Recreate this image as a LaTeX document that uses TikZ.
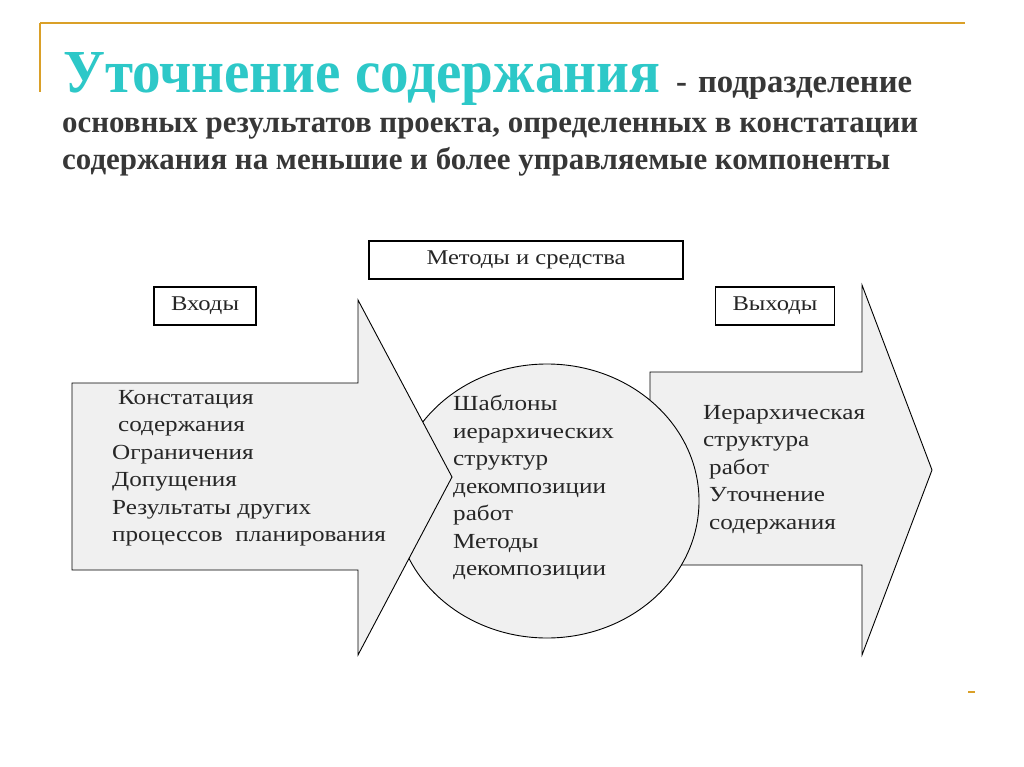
\documentclass[tikz,border=0pt]{standalone}
\usepackage{fontspec}
\usepackage{graphicx}
\setmainfont{Liberation Serif}
\newfontfamily\wide[FakeStretch=1.17]{Liberation Serif}
\definecolor{orn}{RGB}{218,160,40}
\definecolor{cy}{RGB}{45,200,200}
\definecolor{dg}{RGB}{55,55,55}
\definecolor{fl}{RGB}{240,240,240}
\begin{document}
\begin{tikzpicture}[x=1pt,y=-1pt,
  shp/.style={draw=black,fill=fl,line width=0.9pt},
  lbl/.style={draw=black,fill=white,line width=1.4pt,font=\wide\fontsize{21}{21}\selectfont,text=black!85},
  txt/.style={font=\wide\fontsize{21.5}{27.5}\selectfont,align=left,anchor=north west,inner sep=0pt,text=black!85}]
\useasboundingbox (0,0) rectangle (1024,767);
\fill[white] (0,0) rectangle (1024,767);
\draw[orn,line width=1.5pt] (40,23) -- (965,23);
\draw[orn,line width=1.2pt] (40,23) -- (40,92);
\draw[orn,line width=1.5pt] (968,692) -- (975,692);
% title
\node[anchor=base west,inner sep=0pt,text=cy] (t1) at (63,93) {\resizebox{597pt}{40pt}{\bfseries\fontsize{50}{50}\selectfont Уточнение содержания}};
\node[anchor=base west,inner sep=0pt,text=dg] (t1b) at (676,93) {\resizebox{236pt}{!}{\bfseries\fontsize{24}{24}\selectfont -\hspace{8pt}подразделение}};
\node[anchor=base west,inner sep=0pt,text=dg] (t2) at (62,133) {\resizebox{856pt}{!}{\bfseries\fontsize{24}{24}\selectfont основных результатов проекта, определенных в констатации}};
\node[anchor=base west,inner sep=0pt,text=dg] (t3) at (62,170) {\resizebox{828pt}{!}{\bfseries\fontsize{24}{24}\selectfont содержания на меньшие и более управляемые компоненты}};
% shapes
\draw[shp] (650,372) -- (862,372) -- (862,285) -- (932,470) -- (862,655) -- (862,565) -- (650,565) -- cycle;
\draw[shp] (547,501) ellipse [x radius=152, y radius=137];
\draw[shp] (72,383) -- (358,383) -- (358,300) -- (452,477) -- (358,655) -- (358,570) -- (72,570) -- cycle;
% label boxes
\node[lbl,minimum width=314pt,minimum height=38pt] (ms) at (526,260) {Методы и средства};
\node[lbl,minimum width=102pt,minimum height=38pt] (in) at (205,306) {Входы};
\node[lbl,minimum width=119pt,minimum height=38pt] (out) at (775,306) {Выходы};
% texts
\node[txt] (lt) at (112,390) {\hspace{6pt}Констатация\\\hspace{6pt}содержания\\Ограничения\\Допущения\\Результаты других\\процессов\ \ планирования};
\node[txt] (ct) at (453,395) {Шаблоны\\иерархических\\структур\\декомпозиции\\работ\\Методы\\декомпозиции};
\node[txt] (rt) at (703,405) {Иерархическая\\структура\\\hspace{6pt}работ\\\hspace{6pt}Уточнение\\\hspace{6pt}содержания};
\end{tikzpicture}
\end{document}
